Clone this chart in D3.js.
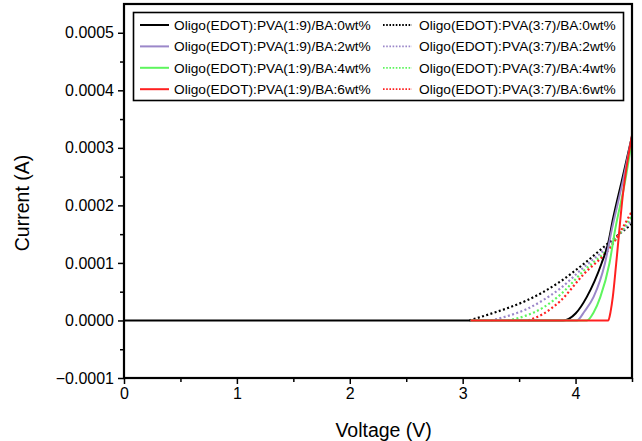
<!DOCTYPE html>
<html>
<head>
<meta charset="utf-8">
<script src="https://cdnjs.cloudflare.com/ajax/libs/d3/7.8.5/d3.min.js"></script>
<style>
  body { margin: 0; background: #fff; }
  text { font-family: "Liberation Sans", Arial, sans-serif; }
</style>
</head>
<body>
<svg id="chart" width="642" height="441"></svg>
<script>
// series: [voltage (V), current (A)]
const blackSolid  = [[0, 0], [3.89, 0], [4.0, 0.000012], [4.1, 0.000041], [4.23, 0.000099], [4.29, 0.000135], [4.33, 0.000175], [4.41, 0.000243], [4.5, 0.00032]];
const purpleSolid = [[3.07, 0], [4.01, 0], [4.08, 0.000016], [4.16, 0.000041], [4.26, 0.000099], [4.32, 0.000157], [4.42, 0.000243], [4.5, 0.00032]];
const greenSolid  = [[3.07, 0], [4.1, 0], [4.16, 0.000014], [4.22, 0.000041], [4.3, 0.000099], [4.35, 0.000157], [4.44, 0.000243], [4.5, 0.000315]];
const redSolid    = [[3.07, 0], [4.29, 0], [4.31, 0.000015], [4.33, 0.000041], [4.36, 0.000099], [4.42, 0.00022], [4.5, 0.000322]];

const blackDot  = [[3.06, 0], [3.27, 0.000013], [3.42, 0.000023], [3.57, 0.000035], [3.71, 0.000049], [3.86, 0.000067], [4.07, 0.000098], [4.3, 0.000136], [4.5, 0.000168]];
const purpleDot = [[3.25, 0], [3.42, 0.000009], [3.57, 0.00002], [3.71, 0.000035], [3.86, 0.000055], [4.07, 0.000092], [4.3, 0.000131], [4.5, 0.000175]];
const greenDot  = [[3.4, 0], [3.57, 0.000009], [3.71, 0.000022], [3.86, 0.000044], [4.07, 0.000086], [4.3, 0.000127], [4.5, 0.000182]];
const redDot    = [[3.58, 0], [3.71, 0.000011], [3.86, 0.000033], [4.07, 0.00008], [4.3, 0.000125], [4.5, 0.00019]];

const labels = [
  'Oligo(EDOT):PVA(1:9)/BA:0wt%', 'Oligo(EDOT):PVA(1:9)/BA:2wt%',
  'Oligo(EDOT):PVA(1:9)/BA:4wt%', 'Oligo(EDOT):PVA(1:9)/BA:6wt%',
  'Oligo(EDOT):PVA(3:7)/BA:0wt%', 'Oligo(EDOT):PVA(3:7)/BA:2wt%',
  'Oligo(EDOT):PVA(3:7)/BA:4wt%', 'Oligo(EDOT):PVA(3:7)/BA:6wt%'
];
const colors = ['#000000', '#9b87c9', '#5ef55e', '#ff2020'];
const xTicks = [0, 1, 2, 3, 4];
const yTicks = [-0.0001, 0, 0.0001, 0.0002, 0.0003, 0.0004, 0.0005];

const series = [
  { data: blackDot, color: colors[0], dotted: true },
  { data: purpleDot, color: colors[1], dotted: true },
  { data: greenDot, color: colors[2], dotted: true },
  { data: redDot, color: colors[3], dotted: true },
  { data: blackSolid, color: colors[0], dotted: false },
  { data: purpleSolid, color: colors[1], dotted: false },
  { data: greenSolid, color: colors[2], dotted: false },
  { data: redSolid, color: colors[3], dotted: false }
];

const margin = { top: 4, right: 10, bottom: 63, left: 124 };
const width = 642 - margin.left - margin.right;
const height = 441 - margin.top - margin.bottom;

const svg = d3.select('#chart');
const g = svg.append('g')
  .attr('transform', 'translate(' + margin.left + ',' + margin.top + ')');

const x = d3.scaleLinear().domain([0, 4.5]).range([0, width]);
const y = d3.scaleLinear().domain([-0.0001, 0.00055]).range([height, 0]);

g.append('clipPath').attr('id', 'clip')
  .append('rect').attr('width', width).attr('height', height);

// curves
const line = d3.line()
  .x(d => x(d[0]))
  .y(d => y(d[1]))
  .curve(d3.curveMonotoneX);

g.append('g')
  .attr('clip-path', 'url(#clip)')
  .selectAll('path')
  .data(series)
  .enter()
  .append('path')
  .attr('d', d => line(d.data))
  .attr('fill', 'none')
  .attr('stroke', d => d.color)
  .attr('stroke-width', d => d.dotted ? 2.2 : 2)
  .attr('stroke-dasharray', d => d.dotted ? '2,2.4' : null);

// axes
const xAxis = g.append('g')
  .attr('transform', 'translate(0,' + height + ')')
  .call(d3.axisBottom(x).tickValues(xTicks).tickFormat(d3.format('d')).tickSize(6).tickPadding(4));
xAxis.append('g')
  .call(d3.axisBottom(x).tickValues(d3.range(0.5, 4.6, 1)).tickFormat('').tickSize(4));

const yAxis = g.append('g')
  .call(d3.axisLeft(y).tickValues(yTicks).tickFormat(d3.format('.4f')).tickSize(6).tickPadding(4));
yAxis.append('g')
  .call(d3.axisLeft(y).tickValues(d3.range(-0.00005, 0.00055, 0.0001)).tickFormat('').tickSize(4));

g.selectAll('.domain').remove();
g.selectAll('.tick line').attr('stroke', '#000').attr('stroke-width', 1.5);
g.selectAll('.tick text').attr('font-size', 16).attr('fill', '#000')
  .style('font-family', '"Liberation Sans", Arial, sans-serif');

// frame
g.append('rect')
  .attr('width', width)
  .attr('height', height)
  .attr('fill', 'none')
  .attr('stroke', '#000')
  .attr('stroke-width', 2.2);

// axis titles
svg.append('text')
  .attr('x', margin.left + x(2.3))
  .attr('y', 437)
  .attr('text-anchor', 'middle')
  .attr('font-size', 19.5)
  .text('Voltage (V)');

svg.append('text')
  .attr('transform', 'translate(29,203) rotate(-90)')
  .attr('text-anchor', 'middle')
  .attr('font-size', 19.5)
  .text('Current (A)');

// legend
const legend = svg.append('g');
legend.append('rect')
  .attr('x', 133.5).attr('y', 12.5)
  .attr('width', 490).attr('height', 88)
  .attr('fill', '#fff')
  .attr('stroke', '#000')
  .attr('stroke-width', 1.6);

const items = legend.selectAll('g.item')
  .data(labels)
  .enter()
  .append('g')
  .attr('class', 'item')
  .attr('transform', (d, i) => 'translate(' + (i < 4 ? 140 : 383) + ',' + (25 + (i % 4) * 21.4) + ')');

items.append('line')
  .attr('x1', 0).attr('x2', 29)
  .attr('stroke', (d, i) => colors[i % 4])
  .attr('stroke-width', (d, i) => i < 4 ? 2 : 1.8)
  .attr('stroke-dasharray', (d, i) => i < 4 ? null : '1.6,1.6');

items.append('text')
  .attr('x', (d, i) => i < 4 ? 34 : 36)
  .attr('dy', '0.35em')
  .attr('font-size', 13.7)
  .text(d => d);
</script>
</body>
</html>
